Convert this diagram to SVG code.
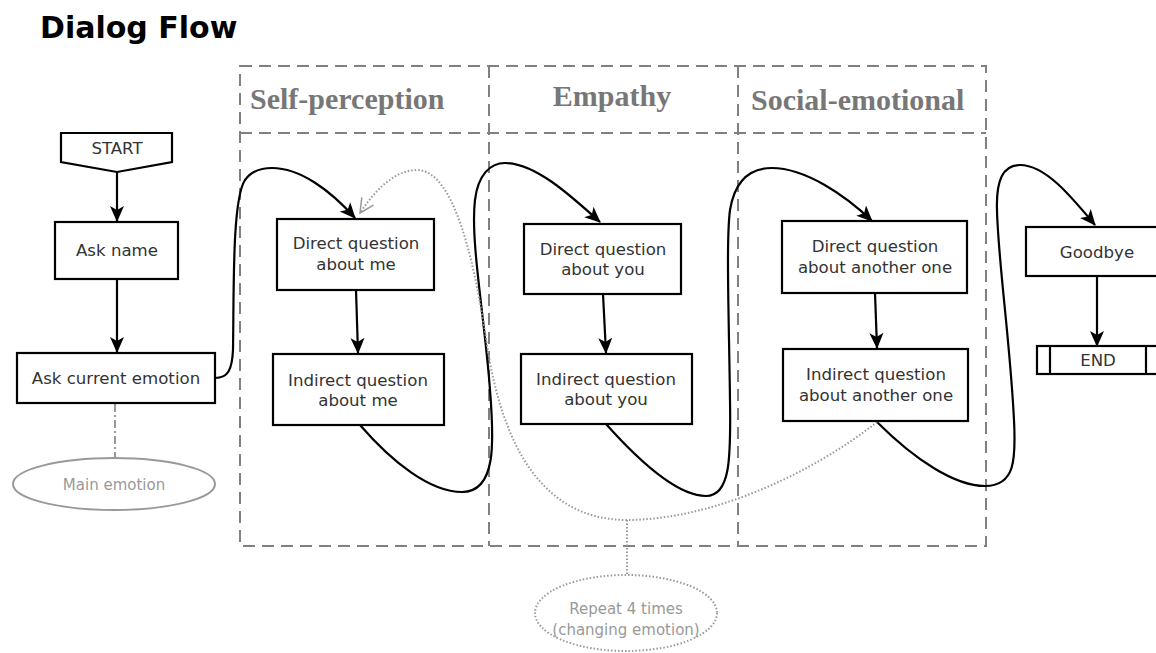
<svg xmlns="http://www.w3.org/2000/svg" width="1156" height="653" viewBox="0 0 1156 653">
<style>
.box{fill:#fff;stroke:#000;stroke-width:2.2}
.t{font-family:"DejaVu Sans",sans-serif;font-size:16.6px;fill:#333;text-anchor:middle}
.g{font-family:"DejaVu Sans",sans-serif;font-size:15px;fill:#999;text-anchor:middle}
.h{font-family:"Liberation Serif",serif;font-size:30px;font-weight:bold;fill:#777}
.frame{fill:none;stroke:#808080;stroke-width:2;stroke-dasharray:12,7}
.arr{fill:none;stroke:#000;stroke-width:2.2;marker-end:url(#ah)}
.dot{fill:none;stroke:#999;stroke-width:2;stroke-dasharray:1.5,2}
</style>
<defs>
<marker id="ah" viewBox="0 0 16 16" refX="15" refY="8" markerWidth="16" markerHeight="16" markerUnits="userSpaceOnUse" orient="auto">
<path d="M0,1 L16,8 L0,15 L4,8 z" fill="#000"/>
</marker>
<marker id="oh" viewBox="0 0 16 16" refX="15" refY="8" markerWidth="16" markerHeight="16" markerUnits="userSpaceOnUse" orient="auto">
<path d="M1,1 L15,8 L1,15" fill="none" stroke="#999" stroke-width="1.5"/>
</marker>
</defs>
<rect width="1156" height="653" fill="#fff"/>
<text x="40" y="38" font-family="DejaVu Sans,sans-serif" font-weight="bold" font-size="30" fill="#000">Dialog Flow</text>

<g id="sections">
<path class="frame" d="M240,66 H986 V546 H240 Z M240,133 H986 M489,66 V546 M738,66 V546"/>
<text class="h" x="250" y="109">Self-perception</text>
<text class="h" x="612" y="106" text-anchor="middle">Empathy</text>
<text class="h" x="751" y="110">Social-emotional</text>
</g>

<g id="connectors">
<line class="arr" x1="117" y1="172" x2="117" y2="221"/>
<line class="arr" x1="117" y1="279" x2="117" y2="352"/>
<line class="arr" x1="356" y1="290" x2="358" y2="353"/>
<line class="arr" x1="603" y1="294" x2="606" y2="353"/>
<line class="arr" x1="875" y1="293" x2="877" y2="348"/>
<line class="arr" x1="1097" y1="276" x2="1097" y2="346"/>
<path class="arr" d="M215,378 C228,378 232,370 233,350 C234,290 232,200 245,180 C252,170 262,168 272,168 C300,168 330,190 355,218"/>
<path class="arr" d="M360,425 C392,462 430,492 462,492 C497,492 494,440 490,390 C485,320 470,240 475,200 C478,175 490,163 505,163 C535,163 570,195 600,222"/>
<path class="arr" d="M606,424 C640,462 678,496 706,496 C730,496 731,460 730,400 C729,320 726,240 730,210 C735,180 750,168 772,168 C805,168 845,195 872,221"/>
<path class="arr" d="M877,422 C915,460 955,486 985,486 C1015,486 1016,460 1014,420 C1010,340 998,260 997,210 C996,180 1003,165 1020,165 C1045,165 1070,195 1095,225"/>
<path class="dot" marker-end="url(#oh)" d="M877,422 C810,475 710,520 627,520 C545,520 503,450 487,345 C475,265 455,170 417,170 C395,170 375,190 360,213"/>
<line class="dot" x1="627" y1="520" x2="627" y2="575"/>
<line x1="115" y1="404" x2="115" y2="458" stroke="#999" stroke-width="2" stroke-dasharray="8,3,2,3"/>
</g>

<g id="start">
<path class="box" d="M61,133 L172,133 L172,162 L117,172 L61,162 Z"/>
<text class="t" x="117" y="154" font-size="15.5">START</text>
</g>
<g id="ask-name">
<rect class="box" x="55" y="222" width="123" height="57"/>
<text class="t" x="117" y="256">Ask name</text>
</g>
<g id="ask-emotion">
<rect class="box" x="17" y="353" width="198" height="50"/>
<text class="t" x="116" y="384">Ask current emotion</text>
</g>
<g id="main-emotion">
<ellipse cx="114" cy="484" rx="101" ry="26" fill="#fff" stroke="#999" stroke-width="2"/>
<text class="g" x="114" y="490">Main emotion</text>
</g>
<g id="direct-me">
<rect class="box" x="277" y="219" width="157" height="71"/>
<text class="t" x="356" y="249">Direct question</text>
<text class="t" x="356" y="270">about me</text>
</g>
<g id="indirect-me">
<rect class="box" x="273" y="354" width="171" height="71"/>
<text class="t" x="358" y="386">Indirect question</text>
<text class="t" x="358" y="406">about me</text>
</g>
<g id="direct-you">
<rect class="box" x="524" y="224" width="157" height="70"/>
<text class="t" x="603" y="255">Direct question</text>
<text class="t" x="603" y="275">about you</text>
</g>
<g id="indirect-you">
<rect class="box" x="521" y="354" width="171" height="70"/>
<text class="t" x="606" y="385">Indirect question</text>
<text class="t" x="606" y="405">about you</text>
</g>
<g id="direct-other">
<rect class="box" x="782" y="221" width="185" height="72"/>
<text class="t" x="875" y="252">Direct question</text>
<text class="t" x="875" y="273">about another one</text>
</g>
<g id="indirect-other">
<rect class="box" x="783" y="349" width="185" height="72"/>
<text class="t" x="876" y="380">Indirect question</text>
<text class="t" x="876" y="401">about another one</text>
</g>
<g id="goodbye">
<rect class="box" x="1026" y="227" width="145" height="49"/>
<text class="t" x="1097" y="258">Goodbye</text>
</g>
<g id="end">
<rect class="box" x="1037" y="346" width="130" height="28"/>
<line x1="1050" y1="346" x2="1050" y2="374" stroke="#000" stroke-width="2.2"/>
<line x1="1146" y1="346" x2="1146" y2="374" stroke="#000" stroke-width="2.2"/>
<text class="t" x="1098" y="366" font-size="15.5">END</text>
</g>
<g id="repeat">
<ellipse class="dot" cx="626" cy="613" rx="91" ry="38" fill="#fff"/>
<text class="g" x="626" y="614">Repeat 4 times</text>
<text class="g" x="626" y="635">(changing emotion)</text>
</g>
</svg>
